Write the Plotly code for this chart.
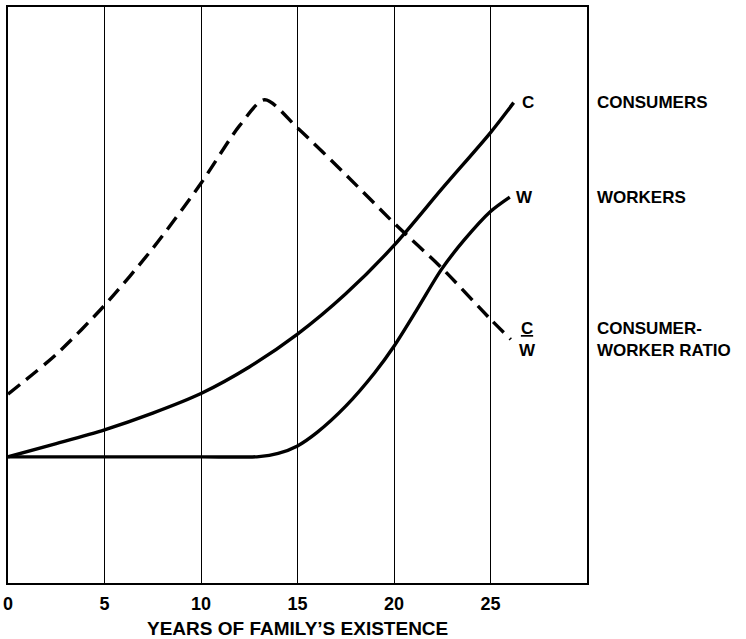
import plotly.graph_objects as go

# years of family's existence
years_c = [0, 2.5, 5, 7.5, 10, 12.5, 15, 17.5, 20, 22.5, 25, 26.2]
consumers = [21.9, 24.2, 26.6, 29.5, 32.9, 37.5, 43.2, 50.2, 58.6, 68.5, 78.2, 83.4]

years_w = [0, 5, 10, 13, 14, 15, 16, 17.5, 19, 20, 21.25, 22.45, 23.65, 25, 26.0]
workers = [21.9, 21.9, 21.9, 21.95, 22.5, 23.8, 26.1, 30.7, 36.5, 41.1, 47.8, 54.4, 59.6, 64.5, 67.0]

years_r = [0, 2.5, 5, 7.5, 10, 12, 13.3, 15, 17.5, 20, 22.5, 25, 26.05]
ratio = [32.8, 39.7, 48.2, 58.1, 69.4, 79.4, 83.9, 79.0, 70.9, 62.5, 54.6, 45.8, 42.3]

x_ticks = [0, 5, 10, 15, 20, 25]

FONT = "Liberation Sans"

fig = go.Figure()

fig.add_trace(go.Scatter(x=years_r, y=ratio, mode="lines",
                         line=dict(color="black", width=3.4, dash="15px,8px", shape="spline", smoothing=0.8)))
fig.add_trace(go.Scatter(x=years_c, y=consumers, mode="lines",
                         line=dict(color="black", width=3.4, shape="spline", smoothing=0.8)))
fig.add_trace(go.Scatter(x=years_w, y=workers, mode="lines",
                         line=dict(color="black", width=3.4, shape="spline", smoothing=0.8)))

# curve end labels
lab_font = dict(family=FONT, size=17, color="black", weight="bold")
fig.add_annotation(x=years_c[-1], y=consumers[-1], text="C", showarrow=False,
                   xanchor="left", xshift=6, font=lab_font)
fig.add_annotation(x=years_w[-1], y=workers[-1], text="W", showarrow=False,
                   xanchor="left", xshift=4, font=lab_font)
fig.add_annotation(x=years_r[-1], y=ratio[-1], text="<u>C</u><br>W", showarrow=False,
                   xanchor="left", xshift=6, font=lab_font, align="center")

# descriptions on the right
fig.add_annotation(xref="paper", x=1.013, y=consumers[-1], text="CONSUMERS", showarrow=False,
                   xanchor="left", font=lab_font)
fig.add_annotation(xref="paper", x=1.013, y=workers[-1], text="WORKERS", showarrow=False,
                   xanchor="left", font=lab_font)
fig.add_annotation(xref="paper", x=1.013, y=ratio[-1], text="CONSUMER-<br>WORKER RATIO", showarrow=False,
                   xanchor="left", align="left", font=lab_font)

# axis title
fig.add_annotation(xref="paper", yref="paper", x=0.5, y=0, yshift=-45, yanchor="middle",
                   text="YEARS OF FAMILY’S EXISTENCE", showarrow=False,
                   font=dict(family=FONT, size=19, color="black", weight="bold"))

fig.update_layout(
    width=746, height=639,
    margin=dict(l=8, r=159, t=7, b=56),
    plot_bgcolor="white", paper_bgcolor="white",
    showlegend=False,
    xaxis=dict(
        range=[0, 30], tickvals=x_ticks, ticktext=[str(v) for v in x_ticks],
        showgrid=True, gridcolor="black", gridwidth=1,
        showline=True, linecolor="black", linewidth=2, mirror=True,
        ticks="", zeroline=False, automargin=False, ticklabelstandoff=3,
        tickfont=dict(family=FONT, size=18, color="black", weight="bold"),
    ),
    yaxis=dict(
        range=[0, 100], showgrid=False, showticklabels=False, ticks="",
        showline=True, linecolor="black", linewidth=2, mirror=True, zeroline=False,
        automargin=False,
    ),
)

# the page body has a default 8px margin; drop it so the figure sits at the corner
fig.write_html("out.html", config={"displayModeBar": False},
               post_script="document.body.style.margin='0';")
